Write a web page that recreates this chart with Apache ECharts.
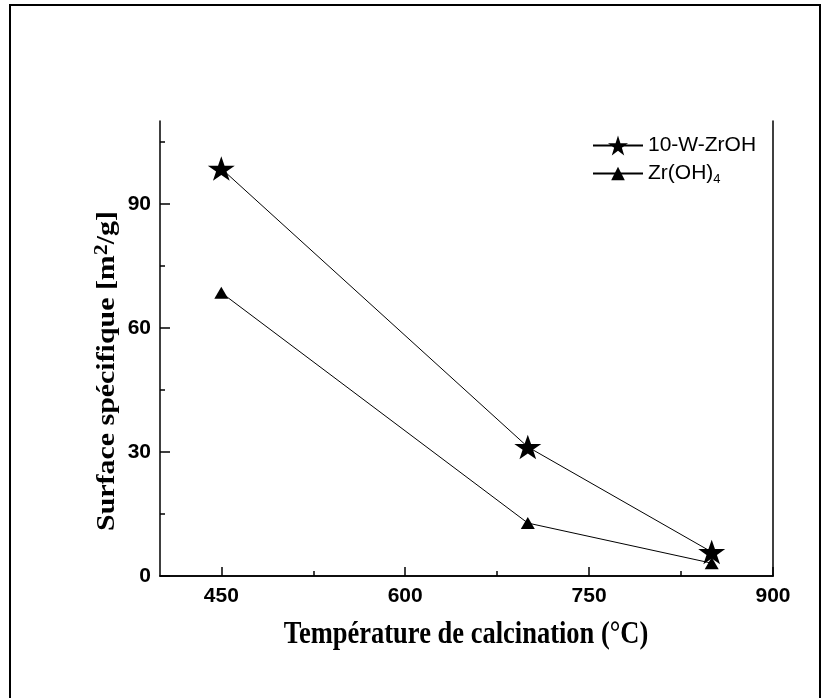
<!DOCTYPE html>
<html>
<head>
<meta charset="utf-8">
<script src="https://cdn.jsdelivr.net/npm/echarts@6/dist/echarts.min.js"></script>
<style>
html,body{margin:0;padding:0;background:#fff;}
#chart{width:825px;height:698px;}
</style>
</head>
<body>
<div id="chart"></div>
<script>
const temperatures = [450, 700, 850];
const wZrOH = [98.5, 31.2, 5.8];
const zrOH4 = [68.5, 12.8, 3.1];
const xMajorTicks = [450, 600, 750, 900];
const xMinorTicks = [525, 675, 825];
const yMajorTicks = [0, 30, 60, 90];
const yMinorTicks = [15, 45, 75, 105];
const seriesNames = ['10-W-ZrOH', 'Zr(OH)4'];
const xTitle = 'Température de calcination (°C)';
const yTitle = 'Surface spécifique [m{sup|2}/g]';

const STAR = 'path://M50,0 L61.8,35.1 L98.9,35.1 L68.9,56.8 L80.3,91.9 L50,70.2 L19.7,91.9 L31.1,56.8 L1.1,35.1 L38.2,35.1 Z';

const chart = echarts.init(document.getElementById('chart'), null, {renderer: 'canvas'});
const tickFont = {fontFamily: 'Liberation Sans', fontWeight: 'bold', fontSize: 21, color: '#000'};
const axisLine = {show: true, lineStyle: {color: '#000', width: 1.5}};
const noLine = {show: false};
const tickStyle = {color: '#000', width: 1.5};

function tickAxis(pos, min, max, len, vals) {
  return {type: 'value', min: min, max: max, position: pos,
    axisLine: noLine, splitLine: {show: false}, axisLabel: {show: false},
    axisTick: {show: true, inside: true, length: len, customValues: vals, lineStyle: tickStyle}};
}

const option = {
  animation: false,
  backgroundColor: '#fff',
  grid: {left: 160, top: 121, right: 52, bottom: 122, containLabel: false},
  xAxis: [
    {type: 'value', min: 400, max: 900, position: 'bottom',
     axisLine: axisLine, splitLine: {show: false}, axisTick: {show: false},
     axisLabel: Object.assign({customValues: xMajorTicks, margin: 10}, tickFont)},
    tickAxis('bottom', 400, 900, 9, xMajorTicks),
    tickAxis('bottom', 400, 900, 5, xMinorTicks),
    {type: 'value', min: 400, max: 900, position: 'top',
     axisLine: axisLine, splitLine: {show: false}, axisLabel: {show: false}, axisTick: {show: false}}
  ],
  yAxis: [
    {type: 'value', min: 0, max: 110, position: 'left',
     axisLine: axisLine, splitLine: {show: false}, axisTick: {show: false},
     axisLabel: Object.assign({customValues: yMajorTicks, margin: 9}, tickFont)},
    tickAxis('left', 0, 110, 10, yMajorTicks),
    tickAxis('left', 0, 110, 5, yMinorTicks),
    {type: 'value', min: 0, max: 110, position: 'right',
     axisLine: axisLine, splitLine: {show: false}, axisLabel: {show: false}, axisTick: {show: false}}
  ],
  legend: [
    {data: [seriesNames[0]], left: 592, top: 135, padding: 0, orient: 'vertical', itemWidth: 50, itemHeight: 25,
     textStyle: {fontFamily: 'Liberation Sans', fontSize: 21, color: '#000'}},
    {data: [seriesNames[1]], left: 592, top: 163, padding: 0, orient: 'vertical', itemWidth: 50, itemHeight: 17,
     formatter: function(){ return 'Zr(OH){sub|4}'; },
     textStyle: {fontFamily: 'Liberation Sans', fontSize: 21, color: '#000',
       rich: {sub: {fontFamily: 'Liberation Sans', fontSize: 13, color: '#000', verticalAlign: 'bottom', padding: [12, 0, 0, 0]}}}}
  ],
  graphic: [
    {type: 'polyline', shape: {points: [[10, 698], [10, 5], [820, 5], [820, 698]]},
     style: {fill: 'none', stroke: '#000', lineWidth: 2}, silent: true},
    {type: 'text', x: 107, y: 371, rotation: Math.PI / 2, scaleX: 1.15,
     style: {text: yTitle, align: 'center', verticalAlign: 'middle',
       fontFamily: 'Liberation Serif', fontWeight: 'bold', fontSize: 26, fill: '#000',
       rich: {sup: {fontFamily: 'Liberation Serif', fontWeight: 'bold', fontSize: 19, fill: '#000', verticalAlign: 'top', padding: [0, 0, 10, 0]}}}},
    {type: 'text', x: 466, y: 635, scaleY: 1.2,
     style: {text: xTitle, align: 'center', verticalAlign: 'middle',
       fontFamily: 'Liberation Serif', fontWeight: 'bold', fontSize: 26.5, fill: '#000'}}
  ],
  series: [
    {name: seriesNames[0], type: 'line', xAxisIndex: 0, yAxisIndex: 0,
     data: temperatures.map((t, i) => [t, wZrOH[i]]),
     symbol: STAR, symbolSize: [27, 26], symbolKeepAspect: true,
     itemStyle: {color: '#000'}, lineStyle: {color: '#000', width: 1}},
    {name: seriesNames[1], type: 'line', xAxisIndex: 0, yAxisIndex: 0,
     data: temperatures.map((t, i) => [t, zrOH4[i]]),
     symbol: 'triangle', symbolSize: [14, 12],
     itemStyle: {color: '#000'}, lineStyle: {color: '#000', width: 1}}
  ]
};
chart.setOption(option);
</script>
</body>
</html>
